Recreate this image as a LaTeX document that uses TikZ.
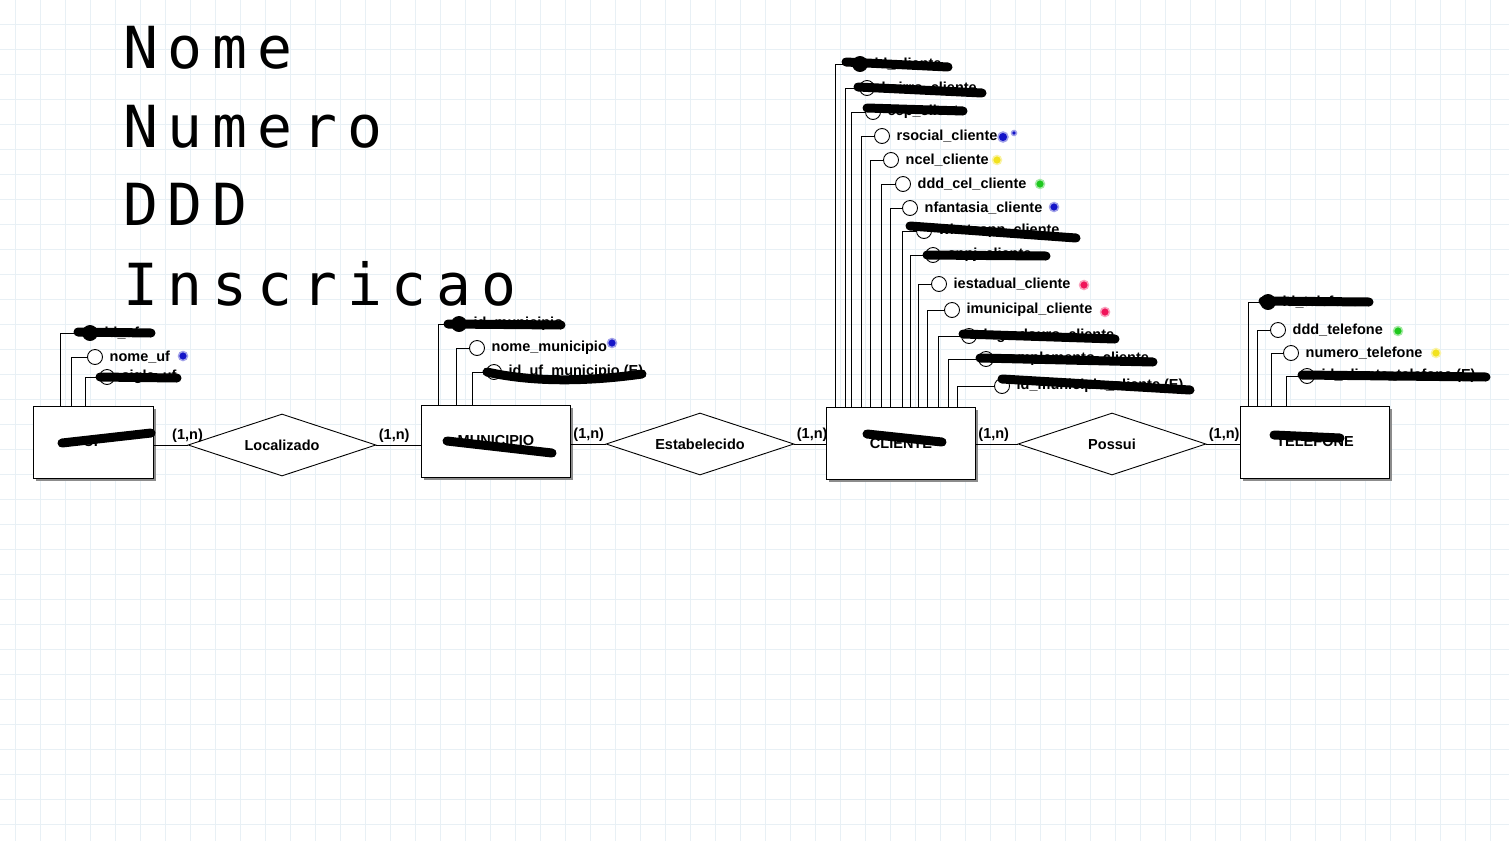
\documentclass[tikz,border=0pt]{standalone}
\usepackage{fontspec}
\setmainfont{Liberation Sans}
\newfontfamily\notefont[LetterSpace=17]{DejaVu Sans Mono}
\usetikzlibrary{positioning,shapes.geometric,shadows}
\definecolor{GridLine}{HTML}{E8F0F5}
\definecolor{ShadowGray}{HTML}{8C8C8C}
\definecolor{DotBlue}{HTML}{1414C8}
\definecolor{DotYellow}{HTML}{F2E21E}
\definecolor{DotGreen}{HTML}{1EC81E}
\definecolor{DotPink}{HTML}{F0145A}
\tikzset{
  labelfont/.style={font=\bfseries\fontsize{14.5}{16}\selectfont},
  gridline/.style={GridLine, line width=0.8pt},
  entity/.style={draw, line width=1pt, fill=white, minimum width=149pt, minimum height=72pt, labelfont,
    drop shadow={shadow xshift=2.5pt, shadow yshift=-2.5pt, fill=ShadowGray, opacity=1}},
  relation/.style={draw, shape=diamond, aspect=3, fill=white, line width=0.9pt, minimum width=188pt, minimum height=62pt, inner sep=0pt, labelfont},
  attr/.style={draw, circle, fill=white, minimum size=15pt, inner sep=0pt, line width=0.9pt},
  attrkey/.style={attr, fill=black},
  attrtext/.style={labelfont, inner sep=1.5pt},
  conn/.style={line width=0.9pt},
  card/.style={labelfont, inner sep=2pt},
  colordot/.style={circle, fill=#1, draw=#1!40, line width=1.5pt, minimum size=9pt, inner sep=0pt},
  scribble/.style={line width=9pt, line cap=round, black},
  bignote/.style={font=\notefont\fontsize{58}{60}\selectfont, anchor=base west, inner sep=0pt}
}
\begin{document}
\begin{tikzpicture}[x=1pt,y=-1pt]
  \fill[white] (0,0) rectangle (1509,841);
  \useasboundingbox (0,0) rectangle (1509,841);
  % grid
  \foreach \gx in {15,40,...,1490} \draw[gridline] (\gx,0) -- (\gx,841);
  \foreach \gy in {24,49,...,824} \draw[gridline] (0,\gy) -- (1509,\gy);

  % notes
  \node[bignote] (nome) at (123,68) {Nome};
  \node[bignote] (numero) at (123,147) {Numero};
  \node[bignote] (ddd) at (123,225) {DDD};
  \node[bignote] (inscricao) at (123,305) {Inscricao};

  % entities
  \node[entity, minimum width=120pt] (uf) at (93,442) {UF};
  \node[entity] (mun) at (496,441) {MUNICIPIO};
  \node[entity] (cli) at (901,443) {CLIENTE};
  \node[entity] (tel) at (1315,442) {TELEFONE};

  % relationships
  \node[relation] (loc) at (282,445) {Localizado};
  \node[relation] (est) at (700,444) {Estabelecido};
  \node[relation] (possui) at (1112,444) {Possui};

  \draw[conn] (uf.east |- loc.west) -- (loc.west) node[card, above] {(1,n)};
  \draw[conn] (loc.east) node[card, above right] {(1,n)} -- (loc.east -| mun.west);
  \draw[conn] (est.west -| mun.east) node[card, above right] {(1,n)} -- (est.west);
  \draw[conn] (est.east) node[card, above right] {(1,n)} -- (est.east -| cli.west);
  \draw[conn] (possui.west -| cli.east) node[card, above right] {(1,n)} -- (possui.west);
  \draw[conn] (possui.east) node[card, above right] {(1,n)} -- (possui.east -| tel.west);

  % attributes
  \foreach \st/\cx/\cy/\lx/\txt [count=\i] in {attrkey/90/333/28/id\_uf, attr/95/357/39/nome\_uf, attr/107/377/53/sigla\_uf}{
    \node[\st] (ufa\i) at (\cx,\cy) {};
    \node[attrtext, right=5pt of ufa\i] (ufat\i) {\txt};
    \draw[conn] (ufa\i.west) -| ([xshift=\lx pt]uf.north west);
  }
  \foreach \st/\cx/\cy/\lx/\txt [count=\i] in {attrkey/459/324/17/id\_municipio, attr/477/348/35/nome\_municipio, attr/494/372/51/id\_uf\_municipio (E)}{
    \node[\st] (muna\i) at (\cx,\cy) {};
    \node[attrtext, right=5pt of muna\i] (munat\i) {\txt};
    \draw[conn] (muna\i.west) -| ([xshift=\lx pt]mun.north west);
  }
  \foreach \st/\cx/\cy/\lx/\txt [count=\i] in {attrkey/860/64/9/id\_cliente, attr/867/88/19/bairro\_cliente,
      attr/873/112/25/cep\_cliente, attr/882/136/35/rsocial\_cliente, attr/891/160/44/ncel\_cliente,
      attr/903/184/55/ddd\_cel\_cliente, attr/910/208/64/nfantasia\_cliente, attr/924/231/76/whatsapp\_cliente,
      attr/933/255/84/cnpj\_cliente, attr/939/284/92/iestadual\_cliente, attr/952/310/101/imunicipal\_cliente,
      attr/969/336/112/logradouro\_cliente, attr/986/359/122/complemento\_cliente,
      attr/1002/386/131/id\_municipio\_cliente (E)}{
    \node[\st] (clia\i) at (\cx,\cy) {};
    \node[attrtext, right=5pt of clia\i] (cliat\i) {\txt};
    \draw[conn] (clia\i.west) -| ([xshift=\lx pt]cli.north west);
  }
  \foreach \st/\cx/\cy/\lx/\txt [count=\i] in {attrkey/1268/302/8/id\_telefone, attr/1278/330/17/ddd\_telefone,
      attr/1291/353/31/numero\_telefone, attr/1307/376/46/id\_cliente\_telefone (E)}{
    \node[\st] (tela\i) at (\cx,\cy) {};
    \node[attrtext, right=5pt of tela\i] (telat\i) {\txt};
    \draw[conn] (tela\i.west) -| ([xshift=\lx pt]tel.north west);
  }

  % colour marks
  \node[colordot=DotBlue] (d1) at (183,356) {};
  \node[colordot=DotBlue] (d2) at (612,343) {};
  \node[colordot=DotBlue, minimum size=10pt] (d3) at (1003,137) {};
  \node[colordot=DotBlue, minimum size=5pt] (d4) at (1014,133) {};
  \node[colordot=DotYellow] (d5) at (997,160) {};
  \node[colordot=DotGreen] (d6) at (1040,184) {};
  \node[colordot=DotBlue] (d7) at (1054,207) {};
  \node[colordot=DotPink] (d8) at (1084,285) {};
  \node[colordot=DotPink] (d9) at (1105,312) {};
  \node[colordot=DotGreen] (d10) at (1398,331) {};
  \node[colordot=DotYellow] (d11) at (1436,353) {};

  % scribbles
  \draw[scribble] (78,332) -- (151,333);
  \draw[scribble] (100,377) -- (177,378);
  \draw[scribble] (62,443) -- (151,433);
  \draw[scribble] (448,324) -- (561,325);
  \draw[scribble] (487,372) .. controls (540,384) and (600,380) .. (642,374);
  \draw[scribble] (447,441) -- (552,453);
  \draw[scribble] (846,62) -- (948,67);
  \draw[scribble] (858,87) -- (982,93);
  \draw[scribble] (867,108) -- (963,111);
  \draw[scribble] (910,226) -- (1076,238);
  \draw[scribble] (927,255) -- (1046,256);
  \draw[scribble] (963,334) -- (1115,339);
  \draw[scribble] (980,358) -- (1153,362);
  \draw[scribble] (1002,379) -- (1190,390);
  \draw[scribble] (867,434) -- (942,442);
  \draw[scribble] (1263,301) -- (1369,302);
  \draw[scribble] (1302,375) -- (1486,377);
  \draw[scribble] (1274,435) -- (1340,438);
\end{tikzpicture}
\end{document}
